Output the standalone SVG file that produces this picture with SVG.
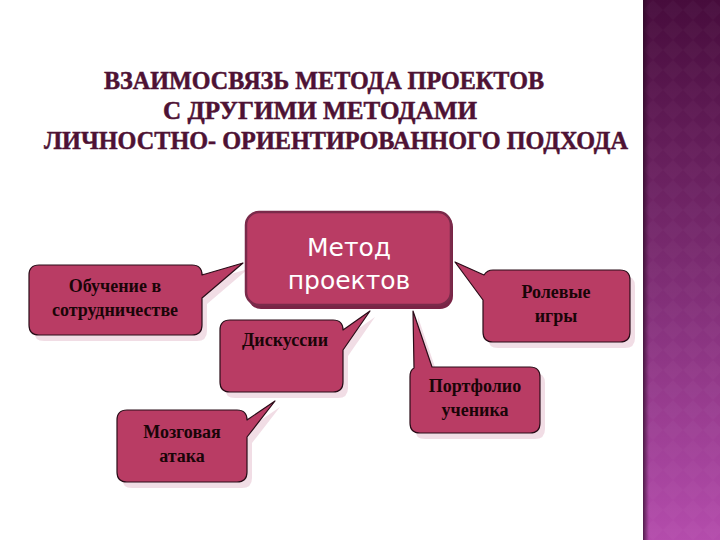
<svg xmlns="http://www.w3.org/2000/svg" width="720" height="540" viewBox="0 0 720 540">
<defs>
<linearGradient id="side" x1="0" y1="0" x2="0" y2="1">
<stop offset="0" stop-color="#470c3c"/>
<stop offset="0.5" stop-color="#7c2c72"/>
<stop offset="1" stop-color="#b44cac"/>
</linearGradient>
<linearGradient id="edge" x1="0" y1="0" x2="1" y2="0">
<stop offset="0" stop-color="#2a0a24" stop-opacity="0.7"/>
<stop offset="1" stop-color="#2a0a24" stop-opacity="0"/>
</linearGradient>
<pattern id="dia" width="20" height="20" patternUnits="userSpaceOnUse" x="643">
<path d="M10,0 L20,10 L10,20 L0,10 Z" fill="#ffffff" fill-opacity="0.025"/>
</pattern>
<style>
.hd{font-family:"Liberation Serif","Times New Roman",serif;font-weight:700;font-size:26px;fill:#4e1234;text-anchor:middle;stroke:#4e1234;stroke-width:0.5}
.box{fill:#b93c64;stroke:#2a0c18;stroke-width:1.2;stroke-linejoin:round}
.shadow{fill:#ecd2dc;opacity:0.75}
.lbl{font-family:"Liberation Serif","Times New Roman",serif;font-weight:700;font-size:18px;fill:#1a0508;text-anchor:middle}
.main{font-family:"DejaVu Sans","Verdana",sans-serif;font-size:25px;fill:#ffffff;text-anchor:middle}
</style>
</defs>
<rect x="0" y="0" width="720" height="540" fill="#ffffff"/>
<g id="sidebar">
<rect x="643" y="0" width="77" height="540" fill="url(#side)"/>
<rect x="643" y="0" width="77" height="540" fill="url(#dia)"/>
<rect x="643" y="0" width="6" height="540" fill="url(#edge)"/>
</g>
<g id="heading">
<text class="hd" x="324" y="89" textLength="440" lengthAdjust="spacingAndGlyphs">ВЗАИМОСВЯЗЬ МЕТОДА ПРОЕКТОВ</text>
<text class="hd" x="320" y="119" textLength="314" lengthAdjust="spacingAndGlyphs">С ДРУГИМИ МЕТОДАМИ</text>
<text class="hd" x="336" y="149" textLength="584" lengthAdjust="spacingAndGlyphs">ЛИЧНОСТНО- ОРИЕНТИРОВАННОГО ПОДХОДА</text>
</g>
<g id="connectors"></g>
<g id="node-obuchenie">
<path class="shadow" transform="translate(5,6)" d="M39,265 H192 Q202,265 202,275 L243,263 L202,298 V325 Q202,335 192,335 H39 Q29,335 29,325 V275 Q29,265 39,265 Z"/>
<path class="box" d="M39,265 H192 Q202,265 202,275 L243,263 L202,298 V325 Q202,335 192,335 H39 Q29,335 29,325 V275 Q29,265 39,265 Z"/>
<text class="lbl" x="115" y="292">Обучение в</text>
<text class="lbl" x="115" y="316">сотрудничестве</text>
</g>
<g id="node-rolevye">
<path class="shadow" transform="translate(5,6)" d="M493,270 H620 Q630,270 630,280 V332 Q630,342 620,342 H493 Q483,342 483,332 V300 L455,262 L484,275 Q487,270 493,270 Z"/>
<path class="box" d="M493,270 H620 Q630,270 630,280 V332 Q630,342 620,342 H493 Q483,342 483,332 V300 L455,262 L484,275 Q487,270 493,270 Z"/>
<text class="lbl" x="556" y="298">Ролевые</text>
<text class="lbl" x="556" y="322">игры</text>
</g>
<g id="node-diskussii">
<path class="shadow" transform="translate(5,6)" d="M230,320 H333 Q343,320 343,330 L370,311 L343,350 V382 Q343,392 333,392 H230 Q220,392 220,382 V330 Q220,320 230,320 Z"/>
<path class="box" d="M230,320 H333 Q343,320 343,330 L370,311 L343,350 V382 Q343,392 333,392 H230 Q220,392 220,382 V330 Q220,320 230,320 Z"/>
<text class="lbl" x="285" y="346">Дискуссии</text>
</g>
<g id="node-mozgovaya">
<path class="shadow" transform="translate(5,6)" d="M127,410 H237 Q247,410 247,420 L275,401 L247,437 V472 Q247,482 237,482 H127 Q117,482 117,472 V420 Q117,410 127,410 Z"/>
<path class="box" d="M127,410 H237 Q247,410 247,420 L275,401 L247,437 V472 Q247,482 237,482 H127 Q117,482 117,472 V420 Q117,410 127,410 Z"/>
<text class="lbl" x="182" y="438">Мозговая</text>
<text class="lbl" x="182" y="462">атака</text>
</g>
<g id="node-portfolio">
<path class="shadow" transform="translate(5,6)" d="M413,311 L432,367 H530 Q540,367 540,377 V423 Q540,433 530,433 H420 Q410,433 410,423 V377 Q410,370 414,368 Z"/>
<path class="box" d="M413,311 L432,367 H530 Q540,367 540,377 V423 Q540,433 530,433 H420 Q410,433 410,423 V377 Q410,370 414,368 Z"/>
<text class="lbl" x="475" y="392">Портфолио</text>
<text class="lbl" x="475" y="416">ученика</text>
</g>
<g id="node-metod">
<rect x="248" y="214" width="205" height="95" rx="13" fill="#7a2446"/>
<rect x="246" y="212" width="205" height="93" rx="13" fill="#b93c64" stroke="#7a2a4a" stroke-width="2.5"/>
<text class="main" x="349" y="256">Метод</text>
<text class="main" x="349" y="289">проектов</text>
</g>
</svg>
